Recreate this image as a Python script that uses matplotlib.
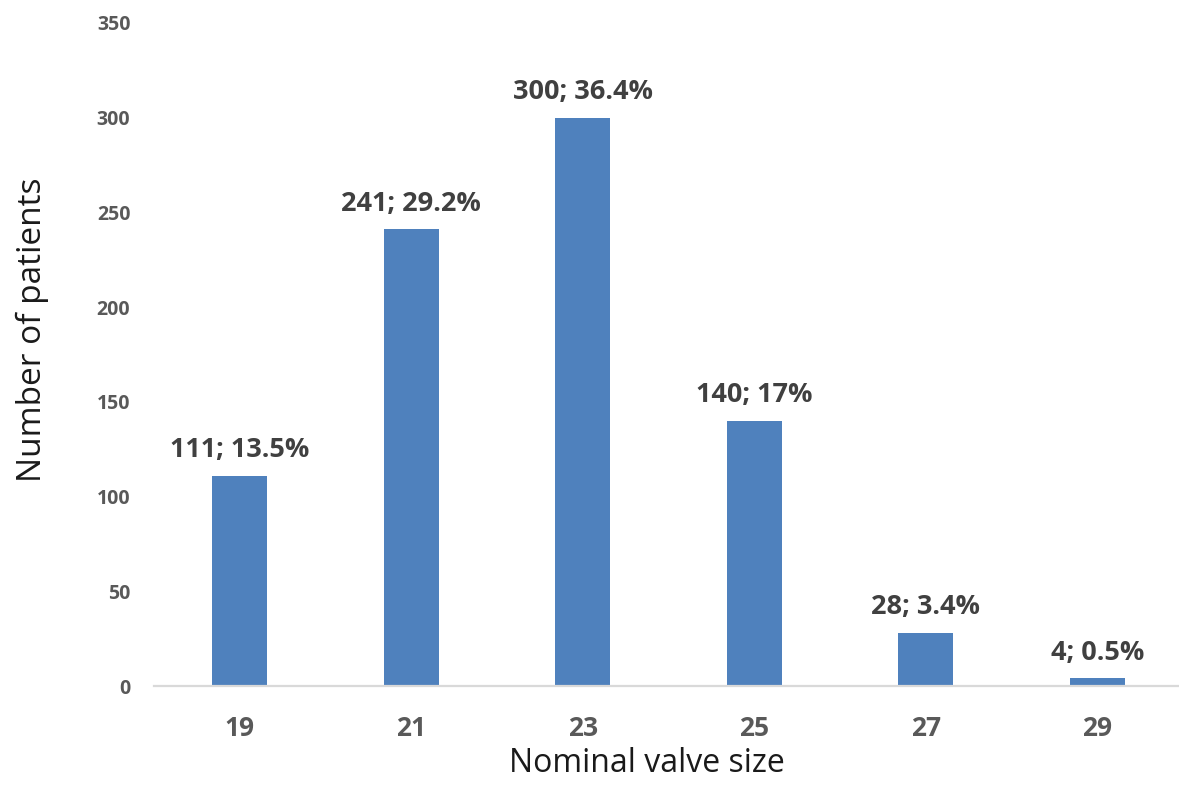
import matplotlib
matplotlib.use("Agg")
import matplotlib.pyplot as plt

# Valve size distribution
sizes = ["19", "21", "23", "25", "27", "29"]
patients = [111, 241, 300, 140, 28, 4]
percents = ["13.5%", "29.2%", "36.4%", "17%", "3.4%", "0.5%"]
y_ticks = [0, 50, 100, 150, 200, 250, 300, 350]

plt.rcParams["font.family"] = ["Open Sans", "DejaVu Sans"]

W, H, DPI = 1179, 785, 100
fig = plt.figure(figsize=(W / DPI, H / DPI), dpi=DPI)
left_px, right_px, bottom_px, top_px = 154, 1183, 686, 23
ax_w = right_px - left_px
ax_h = bottom_px - top_px
ax = fig.add_axes([left_px / W, 1 - bottom_px / H, ax_w / W, ax_h / H])

x = list(range(len(sizes)))
ax.bar(x, patients, width=0.32, color="#4f81bd", zorder=2)

for xi, n, p in zip(x, patients, percents):
    ax.annotate(f"{n}; {p}", (xi, n), xytext=(0, 9), textcoords="offset points",
                ha="center", va="bottom", fontsize=19.5, fontweight="bold",
                color="#404040")

ax.set_xlim(-0.5, len(sizes) - 0.5)
ax.set_ylim(0, 350)
ax.set_xticks(x)
ax.set_xticklabels(sizes, fontsize=19, fontweight="bold", color="#595959")
ax.set_yticks(y_ticks)
ax.set_yticklabels([str(v) for v in y_ticks], fontsize=14, fontweight="bold",
                   color="#595959")
ax.tick_params(axis="both", length=0)
ax.tick_params(axis="x", pad=21)
ax.tick_params(axis="y", pad=17)

for s in ("top", "right", "left"):
    ax.spines[s].set_visible(False)
ax.spines["bottom"].set_color("#d9d9d9")
ax.spines["bottom"].set_linewidth(1.6)

ax.set_xlabel("Nominal valve size", fontsize=23, color="#1a1a1a")
ax.xaxis.set_label_coords((647 - left_px) / ax_w, (bottom_px - 763) / ax_h)
ax.xaxis.label.set_va("center")
ax.set_ylabel("Number of patients", fontsize=24, color="#1a1a1a")
ax.yaxis.set_label_coords((32 - left_px) / ax_w, (bottom_px - 330) / ax_h)
ax.yaxis.label.set_va("center")

fig.savefig("out.png", dpi=DPI)
